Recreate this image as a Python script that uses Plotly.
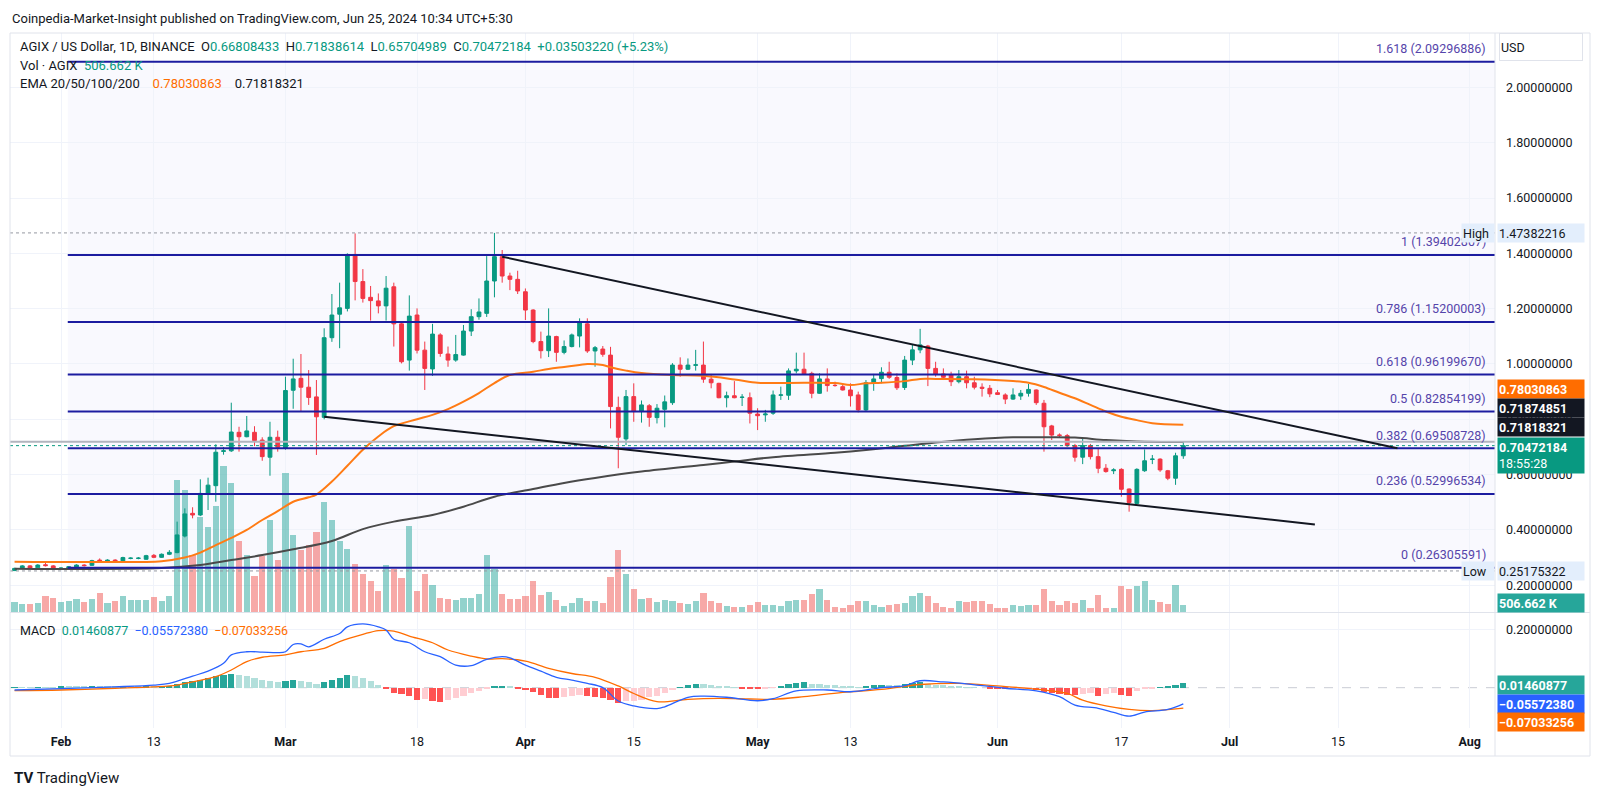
import pandas as pd
import plotly.graph_objects as go

W, H = 1600, 796
FONT = "Roboto, 'Noto Sans', sans-serif"

UP, DOWN = "#089981", "#f23645"
GRID = "#f0f3fa"
BORDER = "#e0e3eb"
FIB_LINE = "#1c1ca0"
FIB_TEXT = "#5544aa"

# ---- daily candles, 26 Jan 2024 -> 25 Jun 2024 ----
dates = pd.date_range("2024-01-26", "2024-06-25", freq="D")

opens = [
    0.253, 0.261, 0.270, 0.263, 0.274, 0.270,
    0.259, 0.261, 0.264, 0.273, 0.272, 0.291, 0.284, 0.291, 0.288, 0.297, 0.297, 0.294, 0.308, 0.301,
    0.312, 0.318, 0.378, 0.460, 0.454, 0.530, 0.560, 0.684, 0.686, 0.753, 0.737, 0.753, 0.725, 0.663, 0.735,
    0.695, 0.905, 0.948, 0.916, 0.881, 0.807, 1.095, 1.180, 1.201, 1.396, 1.298, 1.241, 1.228, 1.210, 1.279,
    1.145, 1.014, 1.177, 1.050, 0.982, 1.105, 1.036, 1.014, 1.032, 1.119, 1.171, 1.183, 1.300, 1.388, 1.318, 1.306,
    1.261, 1.195, 1.081, 1.048, 1.099, 1.042, 1.063, 1.101, 1.145, 1.047, 1.054, 1.032, 0.843, 0.729, 0.882,
    0.828, 0.849, 0.806, 0.836, 0.860, 0.996, 0.981, 0.995, 0.996, 0.945, 0.930, 0.878, 0.885, 0.879, 0.878,
    0.819, 0.816, 0.822, 0.887, 0.887, 0.975, 0.981, 0.966, 0.894, 0.946, 0.923, 0.918, 0.906, 0.888, 0.834,
    0.933, 0.947, 0.970, 0.951, 0.915, 1.014, 1.051, 1.065, 0.984, 0.964, 0.960, 0.936, 0.954, 0.932, 0.916, 0.912,
    0.896, 0.888, 0.873, 0.884, 0.894, 0.906, 0.858, 0.776, 0.743, 0.741, 0.705, 0.663, 0.705, 0.665, 0.623,
    0.614, 0.619, 0.548, 0.496, 0.614, 0.655, 0.656, 0.614, 0.587, 0.66808433,
]
highs = [
    0.263, 0.273, 0.273, 0.276, 0.283, 0.273,
    0.265, 0.269, 0.276, 0.276, 0.292, 0.297, 0.294, 0.294, 0.303, 0.301, 0.302, 0.310, 0.313, 0.315,
    0.327, 0.430, 0.478, 0.482, 0.583, 0.589, 0.710, 0.700, 0.860, 0.773, 0.812, 0.775, 0.735, 0.791, 0.759,
    0.954, 1.019, 1.036, 0.978, 0.942, 1.129, 1.253, 1.294, 1.400, 1.472, 1.343, 1.282, 1.255, 1.318, 1.294,
    1.150, 1.248, 1.201, 1.081, 1.145, 1.111, 1.063, 1.105, 1.141, 1.198, 1.237, 1.390, 1.47382216, 1.412, 1.330, 1.337,
    1.273, 1.198, 1.117, 1.201, 1.102, 1.085, 1.110, 1.165, 1.165, 1.065, 1.065, 1.062, 0.882, 0.906, 0.930,
    0.868, 0.855, 0.855, 0.886, 1.003, 1.024, 1.020, 1.051, 1.081, 0.964, 0.932, 0.900, 0.938, 0.891, 0.897,
    0.840, 0.834, 0.904, 0.918, 0.984, 1.041, 1.041, 0.972, 0.966, 0.984, 0.936, 0.930, 0.930, 0.900, 0.942,
    0.964, 0.988, 1.008, 0.966, 1.029, 1.069, 1.127, 1.069, 1.008, 0.984, 0.972, 0.978, 0.976, 0.954, 0.930, 0.924,
    0.906, 0.894, 0.912, 0.906, 0.928, 0.908, 0.870, 0.780, 0.749, 0.747, 0.711, 0.731, 0.711, 0.695, 0.638,
    0.623, 0.623, 0.550, 0.623, 0.691, 0.671, 0.659, 0.617, 0.679, 0.71838614,
]
lows = [
    0.25175322, 0.258, 0.259, 0.260, 0.268, 0.256,
    0.255, 0.258, 0.262, 0.268, 0.270, 0.285, 0.282, 0.281, 0.286, 0.294, 0.294, 0.292, 0.298, 0.299,
    0.309, 0.316, 0.373, 0.442, 0.450, 0.472, 0.502, 0.672, 0.682, 0.683, 0.735, 0.703, 0.650, 0.596, 0.683,
    0.690, 0.838, 0.828, 0.852, 0.671, 0.800, 1.080, 1.057, 1.190, 1.230, 1.222, 1.157, 1.183, 1.157, 1.063,
    1.002, 0.976, 1.038, 0.906, 0.957, 1.026, 0.990, 1.008, 1.030, 1.101, 1.160, 1.170, 1.241, 1.294, 1.267, 1.253,
    1.159, 1.075, 1.020, 1.025, 1.008, 1.035, 1.060, 1.060, 1.040, 0.990, 1.026, 0.767, 0.623, 0.707, 0.791,
    0.788, 0.773, 0.785, 0.771, 0.852, 0.954, 0.978, 0.976, 0.932, 0.912, 0.876, 0.843, 0.876, 0.848, 0.785,
    0.761, 0.791, 0.816, 0.870, 0.870, 0.966, 0.960, 0.876, 0.892, 0.900, 0.918, 0.904, 0.846, 0.825, 0.828,
    0.903, 0.930, 0.946, 0.906, 0.906, 0.996, 1.039, 0.920, 0.954, 0.942, 0.920, 0.930, 0.912, 0.908, 0.882, 0.880,
    0.888, 0.855, 0.870, 0.870, 0.882, 0.852, 0.683, 0.725, 0.735, 0.700, 0.647, 0.638, 0.655, 0.605, 0.607,
    0.602, 0.520, 0.466, 0.494, 0.610, 0.638, 0.610, 0.580, 0.563, 0.65704989,
]
closes = [
    0.261, 0.270, 0.262, 0.273, 0.271, 0.259,
    0.262, 0.267, 0.273, 0.271, 0.289, 0.288, 0.291, 0.284, 0.300, 0.298, 0.298, 0.307, 0.301, 0.312,
    0.319, 0.382, 0.458, 0.454, 0.532, 0.562, 0.681, 0.686, 0.754, 0.737, 0.758, 0.723, 0.665, 0.735, 0.699,
    0.904, 0.946, 0.916, 0.879, 0.809, 1.095, 1.177, 1.203, 1.396, 1.298, 1.237, 1.229, 1.210, 1.274, 1.145,
    1.008, 1.173, 1.050, 0.984, 1.108, 1.038, 1.014, 1.034, 1.119, 1.171, 1.188, 1.300, 1.388, 1.318, 1.306, 1.264,
    1.195, 1.081, 1.048, 1.101, 1.042, 1.063, 1.105, 1.152, 1.047, 1.059, 1.035, 0.846, 0.735, 0.882, 0.828,
    0.852, 0.807, 0.840, 0.863, 0.996, 0.981, 0.996, 0.997, 0.945, 0.932, 0.878, 0.885, 0.878, 0.880, 0.822,
    0.813, 0.819, 0.888, 0.888, 0.975, 0.981, 0.964, 0.894, 0.946, 0.922, 0.922, 0.906, 0.885, 0.834, 0.932,
    0.946, 0.970, 0.952, 0.914, 1.014, 1.051, 1.069, 0.984, 0.964, 0.952, 0.936, 0.954, 0.932, 0.916, 0.912, 0.892,
    0.890, 0.873, 0.888, 0.894, 0.908, 0.860, 0.773, 0.743, 0.742, 0.705, 0.663, 0.705, 0.665, 0.623, 0.611,
    0.617, 0.547, 0.499, 0.619, 0.650, 0.656, 0.617, 0.587, 0.668, 0.70472184,
]

# volume, thousands of AGIX
volumes = [
    733, 582, 582, 658, 1210, 1058,
    733, 809, 983, 733, 983, 1467, 658, 809, 1187, 937, 885, 937, 1134, 862,
    1187, 10009, 9200, 4339, 7182, 6403, 7991, 11015, 9730, 5345, 4339, 2722, 4264, 6985, 3909,
    10539, 5799, 4717, 5095, 6078, 8316, 6933, 5368, 4740, 3606, 2850, 2321, 1588, 3531, 3228,
    2548, 6479, 1588, 2903, 2071, 1058, 1013, 937, 1058, 1058, 1391, 4339, 3228, 1391, 1013, 1013,
    1187, 2321, 1263, 1512, 937, 454, 680, 1058, 809, 809, 680, 2646, 4665, 2850, 1716,
    1013, 1058, 733, 937, 809, 680, 582, 809, 1467, 809, 680, 454, 408, 408, 529,
    733, 529, 529, 454, 809, 937, 937, 1338, 1716, 937, 408, 280, 529, 809, 862,
    529, 408, 529, 605, 680, 1187, 1467, 1187, 680, 408, 333, 862, 733, 809, 809, 582,
    333, 333, 529, 454, 529, 529, 1769, 809, 529, 809, 680, 937, 333, 1263, 333,
    280, 1943, 1716, 1943, 2321, 937, 733, 605, 2019, 506.662,
]

# MACD histogram (12, 26, 9)
macd_hist = [
    0.001, 0.001, 0.001, 0.002, 0.002, 0.002,
    0.003, 0.003, 0.003, 0.003, 0.004, 0.004, 0.004, 0.004, 0.005, 0.005, 0.004, 0.005, 0.004, 0.005,
    0.006, 0.012, 0.018, 0.022, 0.028, 0.032, 0.040, 0.044, 0.046, 0.045, 0.039, 0.032, 0.025, 0.022, 0.018,
    0.024, 0.027, 0.024, 0.020, 0.012, 0.020, 0.027, 0.034, 0.045, 0.040, 0.032, 0.022, 0.010, -0.004, -0.018,
    -0.021, -0.030, -0.044, -0.040, -0.045, -0.048, -0.043, -0.036, -0.028, -0.020, -0.012, -0.004, 0.004, 0.007, 0.003, -0.002,
    -0.008, -0.016, -0.026, -0.035, -0.036, -0.033, -0.030, -0.026, -0.028, -0.031, -0.036, -0.044, -0.052, -0.047, -0.045,
    -0.041, -0.033, -0.028, -0.020, -0.008, 0.002, 0.009, 0.013, 0.012, 0.011, 0.006, 0.003, 0.001, -0.002, -0.005,
    -0.006, -0.004, -0.001, 0.003, 0.012, 0.015, 0.018, 0.014, 0.013, 0.010, 0.008, 0.007, 0.004, 0.002, 0.006,
    0.008, 0.010, 0.009, 0.008, 0.012, 0.016, 0.018, 0.014, 0.011, 0.009, 0.006, 0.004, 0.002, 0.001, 0.000, -0.002,
    -0.003, -0.005, -0.004, -0.004, -0.003, -0.008, -0.016, -0.020, -0.022, -0.024, -0.025, -0.021, -0.020, -0.027, -0.023,
    -0.020, -0.026, -0.027, -0.012, -0.006, -0.002, 0.002, 0.003, 0.008, 0.01460877,
]

# EMA lines
ema50_dates = ["2024-01-26", "2024-02-05", "2024-02-14", "2024-02-17", "2024-02-19", "2024-02-21", "2024-02-23",
               "2024-02-25", "2024-02-27", "2024-02-29", "2024-03-02", "2024-03-04", "2024-03-05", "2024-03-07",
               "2024-03-09", "2024-03-11", "2024-03-13", "2024-03-15", "2024-03-18", "2024-03-20", "2024-03-22",
               "2024-03-24", "2024-03-26", "2024-03-28", "2024-03-30", "2024-04-02", "2024-04-04", "2024-04-06",
               "2024-04-08", "2024-04-09", "2024-04-11", "2024-04-12", "2024-04-14", "2024-04-16", "2024-04-20",
               "2024-04-24", "2024-04-28", "2024-05-01", "2024-05-03", "2024-05-07", "2024-05-11", "2024-05-13",
               "2024-05-15", "2024-05-17", "2024-05-20", "2024-05-22", "2024-05-24", "2024-05-29", "2024-06-03",
               "2024-06-05", "2024-06-07", "2024-06-09", "2024-06-11", "2024-06-13", "2024-06-15", "2024-06-17",
               "2024-06-19", "2024-06-21", "2024-06-25"]
ema50_vals = [0.285, 0.284, 0.287, 0.300, 0.318, 0.345, 0.371, 0.400, 0.436, 0.468, 0.502, 0.518, 0.528, 0.575,
              0.632, 0.690, 0.738, 0.775, 0.800, 0.816, 0.837, 0.864, 0.895, 0.931, 0.960, 0.972, 0.982, 0.989,
              0.996, 1.000, 0.996, 0.988, 0.976, 0.967, 0.960, 0.957, 0.944, 0.932, 0.931, 0.932, 0.931, 0.924,
              0.930, 0.932, 0.938, 0.946, 0.946, 0.945, 0.938, 0.932, 0.917, 0.896, 0.876, 0.852, 0.828, 0.809,
              0.797, 0.786, 0.78030863]

ema200_dates = ["2024-01-26", "2024-02-14", "2024-02-19", "2024-02-23", "2024-02-27", "2024-03-02", "2024-03-07",
                "2024-03-11", "2024-03-15", "2024-03-20", "2024-03-24", "2024-03-28", "2024-04-02", "2024-04-06",
                "2024-04-10", "2024-04-16", "2024-04-24", "2024-04-28", "2024-05-03", "2024-05-11", "2024-05-15",
                "2024-05-20", "2024-05-24", "2024-05-29", "2024-06-03", "2024-06-07", "2024-06-11", "2024-06-15",
                "2024-06-19", "2024-06-25"]
ema200_vals = [0.260, 0.262, 0.273, 0.291, 0.309, 0.330, 0.360, 0.403, 0.430, 0.454, 0.484, 0.520, 0.548, 0.570,
               0.588, 0.611, 0.635, 0.647, 0.663, 0.679, 0.689, 0.704, 0.716, 0.728, 0.735, 0.735, 0.734, 0.725,
               0.720, 0.71818321]

macd_dates = ["2024-01-26", "2024-02-01", "2024-02-08", "2024-02-13", "2024-02-15", "2024-02-18", "2024-02-20",
              "2024-02-22", "2024-02-23", "2024-02-25", "2024-02-27", "2024-02-29", "2024-03-01", "2024-03-02",
              "2024-03-03", "2024-03-04", "2024-03-06", "2024-03-08", "2024-03-09", "2024-03-11", "2024-03-13",
              "2024-03-14", "2024-03-15", "2024-03-17", "2024-03-19", "2024-03-21", "2024-03-23", "2024-03-25",
              "2024-03-27", "2024-03-29", "2024-03-30", "2024-04-01", "2024-04-03", "2024-04-05", "2024-04-07",
              "2024-04-09", "2024-04-11", "2024-04-13", "2024-04-15", "2024-04-18", "2024-04-19", "2024-04-22",
              "2024-04-24", "2024-04-27", "2024-05-01", "2024-05-03", "2024-05-06", "2024-05-10", "2024-05-13",
              "2024-05-17", "2024-05-20", "2024-05-22", "2024-05-25", "2024-05-28", "2024-05-30", "2024-06-02",
              "2024-06-06", "2024-06-09", "2024-06-11", "2024-06-14", "2024-06-16", "2024-06-18", "2024-06-20",
              "2024-06-23", "2024-06-25"]
macd_vals = [-0.008, -0.003, 0.003, 0.009, 0.015, 0.040, 0.057, 0.084, 0.113, 0.124, 0.123, 0.121, 0.124, 0.149,
             0.151, 0.141, 0.167, 0.187, 0.210, 0.220, 0.210, 0.199, 0.167, 0.155, 0.124, 0.107, 0.078, 0.076,
             0.098, 0.107, 0.103, 0.078, 0.057, 0.036, 0.026, 0.015, 0.000, -0.046, -0.063, -0.072, -0.066,
             -0.033, -0.029, -0.033, -0.045, -0.038, -0.011, -0.008, -0.014, 0.000, 0.007, 0.024, 0.020, 0.013,
             0.007, -0.002, -0.011, -0.031, -0.060, -0.071, -0.085, -0.098, -0.084, -0.075, -0.05572380]

signal_dates = ["2024-01-26", "2024-02-01", "2024-02-08", "2024-02-13", "2024-02-16", "2024-02-18", "2024-02-21",
                "2024-02-23", "2024-02-25", "2024-02-27", "2024-03-01", "2024-03-03", "2024-03-06", "2024-03-08",
                "2024-03-11", "2024-03-13", "2024-03-15", "2024-03-17", "2024-03-20", "2024-03-22", "2024-03-25",
                "2024-03-27", "2024-03-29", "2024-04-01", "2024-04-04", "2024-04-07", "2024-04-10", "2024-04-13",
                "2024-04-15", "2024-04-18", "2024-04-22", "2024-04-26", "2024-04-30", "2024-05-03", "2024-05-07",
                "2024-05-12", "2024-05-17", "2024-05-22", "2024-05-27", "2024-06-01", "2024-06-06", "2024-06-10",
                "2024-06-12", "2024-06-15", "2024-06-18", "2024-06-21", "2024-06-25"]
signal_vals = [-0.010, -0.008, -0.002, 0.003, 0.009, 0.020, 0.038, 0.061, 0.090, 0.105, 0.113, 0.124, 0.136,
               0.159, 0.184, 0.197, 0.195, 0.178, 0.155, 0.130, 0.109, 0.099, 0.100, 0.092, 0.067, 0.049, 0.036,
               0.006, -0.020, -0.048, -0.040, -0.037, -0.039, -0.040, -0.031, -0.016, -0.006, 0.011, 0.015,
               0.006, -0.005, -0.020, -0.043, -0.063, -0.075, -0.079, -0.07033256]

# drawings
fib_ratios = ["0", "0.236", "0.382", "0.5", "0.618", "0.786", "1", "1.618"]
fib_prices = [0.26305591, 0.52996534, 0.69508728, 0.82854199, 0.96199670, 1.15200003, 1.39402807, 2.09296886]
fib_start = "2024-02-01 21:00"
upper_trend = (["2024-03-29", "2024-07-22 16:00"], [1.388, 0.695])
lower_trend = (["2024-03-06", "2024-07-12"], [0.809, 0.420])
range_high, range_low = 1.47382216, 0.25175322
ema100_level = 0.71874851

tick_dates = ["2024-02-01", "2024-02-13", "2024-03-01", "2024-03-18", "2024-04-01", "2024-04-15",
              "2024-05-01", "2024-05-13", "2024-06-01", "2024-06-17", "2024-07-01", "2024-07-15", "2024-08-01"]
tick_text = ["<b>Feb</b>", "13", "<b>Mar</b>", "18", "<b>Apr</b>", "15", "<b>May</b>", "13",
             "<b>Jun</b>", "17", "<b>Jul</b>", "15", "<b>Aug</b>"]
price_ticks = [0.2, 0.4, 0.6, 0.8, 1.0, 1.2, 1.4, 1.6, 1.8, 2.0]


def px(x):
    return x / W


def py(y):
    return 1 - y / H


X_RANGE = ["2024-01-25 09:52", "2024-08-04 06:30"]
X_DOM = [px(10), px(1495)]
PRICE_DOM = [py(612), py(33)]
MACD_DOM = [py(728), py(613)]
DAY_MS = 86400000

up_day = [c >= o for o, c in zip(opens, closes)]
vol_colors = ["rgba(38,166,154,0.5)" if u else "rgba(239,83,80,0.5)" for u in up_day]

hist_colors = []
prev = 0
for h in macd_hist:
    if h >= 0:
        hist_colors.append("#26a69a" if h > prev else "#b2dfdb")
    else:
        hist_colors.append("#ff5252" if h < prev else "#ffcdd2")
    prev = h

fig = go.Figure()

fig.add_trace(go.Bar(x=dates, y=volumes, marker_color=vol_colors, marker_line_width=0,
                     width=DAY_MS * 0.8, xaxis="x", yaxis="y"))

fig.add_trace(go.Candlestick(
    x=dates, open=opens, high=highs, low=lows, close=closes,
    increasing=dict(fillcolor=UP, line=dict(color=UP, width=1)),
    decreasing=dict(fillcolor=DOWN, line=dict(color=DOWN, width=1)),
    whiskerwidth=0, xaxis="x", yaxis="y3",
))

fig.add_trace(go.Scatter(x=ema200_dates, y=ema200_vals, mode="lines", line_shape="spline",
                         line=dict(color="#4a4a4a", width=2), xaxis="x", yaxis="y3"))
fig.add_trace(go.Scatter(x=ema50_dates, y=ema50_vals, mode="lines", line_shape="spline",
                         line=dict(color="#ff7b14", width=2), xaxis="x", yaxis="y3"))

fig.add_trace(go.Bar(x=dates, y=macd_hist, marker_color=hist_colors, marker_line_width=0,
                     width=DAY_MS * 0.8, xaxis="x2", yaxis="y2"))
fig.add_trace(go.Scatter(x=signal_dates, y=signal_vals, mode="lines", line_shape="spline",
                         line=dict(color="#ff6d00", width=1.3), xaxis="x2", yaxis="y2"))
fig.add_trace(go.Scatter(x=macd_dates, y=macd_vals, mode="lines", line_shape="spline",
                         line=dict(color="#2962ff", width=1.3), xaxis="x2", yaxis="y2"))

shapes = []
# fib background and levels
shapes.append(dict(type="rect", xref="x", yref="y3", x0=fib_start, x1=X_RANGE[1],
                   y0=fib_prices[0], y1=fib_prices[-1], fillcolor="rgba(60,60,210,0.03)",
                   line_width=0, layer="below"))
for p in fib_prices:
    shapes.append(dict(type="line", xref="x", yref="y3", x0=fib_start, x1=X_RANGE[1], y0=p, y1=p,
                       line=dict(color=FIB_LINE, width=2)))
# high / low / last price / ema100 reference lines
for p in (range_high, range_low):
    shapes.append(dict(type="line", xref="x", yref="y3", x0=X_RANGE[0], x1=X_RANGE[1], y0=p, y1=p,
                       line=dict(color="#9598a1", width=1, dash="dot")))
shapes.append(dict(type="line", xref="x", yref="y3", x0=X_RANGE[0], x1=X_RANGE[1],
                   y0=ema100_level, y1=ema100_level, line=dict(color="#b2b5be", width=2)))
shapes.append(dict(type="line", xref="x", yref="y3", x0=X_RANGE[0], x1=X_RANGE[1],
                   y0=closes[-1], y1=closes[-1], line=dict(color=UP, width=1, dash="dot")))
# trend lines
for xs, ys in (upper_trend, lower_trend):
    shapes.append(dict(type="line", xref="x", yref="y3", x0=xs[0], x1=xs[1], y0=ys[0], y1=ys[1],
                       line=dict(color="#131722", width=2)))
# macd zero line
shapes.append(dict(type="line", xref="x2", yref="y2", x0=X_RANGE[0], x1=X_RANGE[1], y0=0, y1=0,
                   line=dict(color="#c9ccd4", width=1, dash="dash"), layer="below"))
# frame and separators
shapes.append(dict(type="rect", xref="paper", yref="paper", x0=px(10), x1=px(1590), y0=py(756), y1=py(33),
                   line=dict(color=BORDER, width=1)))
shapes.append(dict(type="line", xref="paper", yref="paper", x0=px(10), x1=px(1590), y0=py(612.5), y1=py(612.5),
                   line=dict(color=BORDER, width=1)))
shapes.append(dict(type="line", xref="paper", yref="paper", x0=px(1495), x1=px(1495), y0=py(756), y1=py(33),
                   line=dict(color=BORDER, width=1)))

ann = []


def text(x, y, s, size=13, color="#131722", **kw):
    ann.append(dict(xref="paper", yref="paper", x=px(x), y=py(y), text=s, showarrow=False,
                    xanchor="left", yanchor="middle", font=dict(family=FONT, size=size, color=color), **kw))


def g(s):
    return f"<span style='color:{UP}'>{s}</span>"


SP = "&nbsp;&nbsp;"
text(10, 18, "Coinpedia-Market-Insight published on TradingView.com, Jun 25, 2024 10:34 UTC+5:30", size=13)
text(18, 47, "AGIX / US Dollar, 1D, BINANCE" + SP + "O" + g("0.66808433") + SP + "H" + g("0.71838614") + SP
     + "L" + g("0.65704989") + SP + "C" + g("0.70472184") + SP + g("+0.03503220 (+5.23%)"), size=13)
text(18, 65, "Vol · AGIX" + SP + g("506.662 K"), size=13)
text(18, 83, "EMA 20/50/100/200" + SP * 2 + "<span style='color:#ff6d00'>0.78030863</span>" + SP * 2
     + "<span style='color:#131722'>0.71818321</span>", size=13)
text(18, 630, "MACD" + SP + g("0.01460877") + SP + "<span style='color:#2962ff'>−0.05572380</span>" + SP
     + "<span style='color:#ff6d00'>−0.07033256</span>", size=12.5)
text(12, 778, "<b>TV</b> TradingView", size=15, color="#131722")

# fib labels
for r, p in zip(fib_ratios, fib_prices):
    ann.append(dict(xref="paper", yref="y3", x=px(1488), y=p, yshift=13, showarrow=False,
                    xanchor="right", yanchor="middle", text=f"{r} ({p:.8f})",
                    font=dict(family=FONT, size=12.5, color=FIB_TEXT)))


def box(yref, y, s, bg, fg="white", shift=0, h=16, x=1497, w=84, anchor="left"):
    ann.append(dict(xref="paper", yref=yref, x=px(x), y=y, yshift=shift, text=s, showarrow=False,
                    xanchor=anchor, yanchor="middle", align="left", bgcolor=bg, width=w, height=h,
                    borderpad=1, font=dict(family=FONT, size=12.5, color=fg)))


HL_BG = "#e3eefc"
box("y3", range_high, "High", HL_BG, "#131722", w=30, x=1495, anchor="right")
box("y3", range_high, "1.47382216", HL_BG, "#131722")
box("y3", range_low, "Low", HL_BG, "#131722", w=30, x=1495, anchor="right")
box("y3", range_low, "0.25175322", HL_BG, "#131722")
box("y3", 0.78030863, "<b>0.78030863</b>", "#ff6d00", shift=36)
box("y3", ema100_level, "<b>0.71874851</b>", "#131722", shift=33.5)
box("y3", 0.71818321, "<b>0.71818321</b>", "#131722", shift=14.5)
box("y3", closes[-1], "<b>0.70472184</b><br>18:55:28", UP, shift=-10, h=33)
box("y", volumes[-1], "<b>506.662 K</b>", "#26a69a", shift=2)
box("y2", macd_hist[-1], "<b>0.01460877</b>", "#26a69a", shift=-1.5)
box("y2", macd_vals[-1], "<b>−0.05572380</b>", "#2962ff")
box("y2", signal_vals[-1], "<b>−0.07033256</b>", "#ff6d00", shift=-14)
ann.append(dict(xref="paper", yref="paper", x=px(1499), y=py(47), text="USD", showarrow=False,
                xanchor="left", yanchor="middle", align="left", width=80, height=24, borderpad=1,
                bordercolor=BORDER, borderwidth=1, bgcolor="white",
                font=dict(family=FONT, size=12.5, color="#131722")))

axis_font = dict(family=FONT, size=12.5, color="#131722")
fig.update_layout(
    width=W, height=H, margin=dict(l=0, r=0, t=0, b=0),
    paper_bgcolor="white", plot_bgcolor="white", showlegend=False,
    bargap=0, shapes=shapes, annotations=ann,
    xaxis=dict(domain=X_DOM, range=X_RANGE, type="date", anchor="y", showticklabels=False,
               tickvals=tick_dates, showgrid=True, gridcolor=GRID, zeroline=False,
               rangeslider=dict(visible=False), showline=False),
    yaxis=dict(domain=PRICE_DOM, range=[0, 43772], visible=False, fixedrange=True),
    yaxis3=dict(domain=PRICE_DOM, range=[0.1033, 2.1966], overlaying="y", anchor="x", side="right",
                tickvals=price_ticks, ticktext=[f"{t:.8f}" for t in price_ticks], ticks="",
                ticklabelstandoff=10, showgrid=True, gridcolor=GRID, zeroline=False, tickfont=axis_font),
    xaxis2=dict(domain=X_DOM, range=X_RANGE, type="date", anchor="y2", tickvals=tick_dates,
                ticktext=tick_text, ticks="", ticklabelstandoff=4, showgrid=True, gridcolor=GRID,
                zeroline=False, tickfont=axis_font),
    yaxis2=dict(domain=MACD_DOM, range=[-0.139, 0.2576], anchor="x2", side="right", tickvals=[0.2],
                ticktext=["0.20000000"], ticks="", ticklabelstandoff=10, showgrid=True, gridcolor=GRID,
                zeroline=False, tickfont=axis_font),
)

# the default page keeps an 8px body margin; drop it so the figure fills the window
fig.write_html("out.html", config={"displayModeBar": False},
               post_script="document.body.style.margin='0px';document.body.style.overflow='hidden';")
